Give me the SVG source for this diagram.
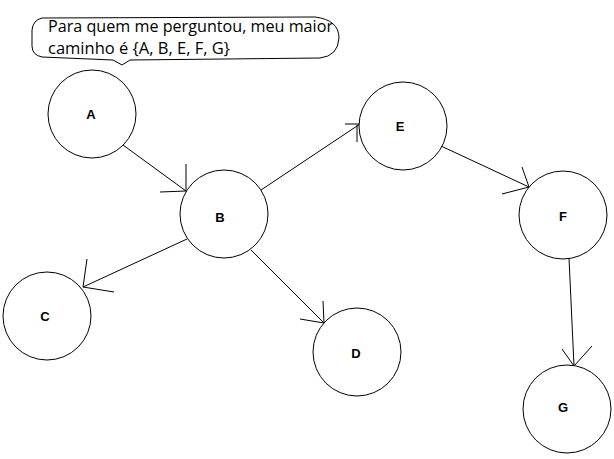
<svg xmlns="http://www.w3.org/2000/svg" width="614" height="459" viewBox="0 0 614 459">
<style>
.node circle{fill:#fff;stroke:#000;stroke-width:1}
.node text{font-family:"Liberation Sans",Arial,sans-serif;font-weight:bold;font-size:13px;fill:#000;text-anchor:middle}
.conn path{fill:none;stroke:#000;stroke-width:1}
.bubble path{fill:#fff;stroke:#000;stroke-width:1}
.bubble text{font-family:"Open Sans","Noto Sans",sans-serif;font-size:15.5px;fill:#000}
</style>
<rect width="614" height="459" fill="#fff"/>
<g id="callout" class="bubble">
<path d="M42,18 L315,17 Q339,20 339,38 Q338,56 320,58 L130,60 L122,65 L113,60 L42,57 Q32,55 32,46 L32,30 Q33,20 42,18 Z"/>
<text x="48" y="32" textLength="285" lengthAdjust="spacingAndGlyphs">Para quem me perguntou, meu maior</text>
<text x="48" y="54" textLength="182" lengthAdjust="spacingAndGlyphs">caminho é {A, B, E, F, G}</text>
</g>
<g id="connectors" class="conn">
<path d="M123,145 L186,191 M186,164 L186,191 L160,192"/>
<path d="M261,190 L360,124 M345,124 L360,124 M357,125 L357,142"/>
<path d="M187,239 L83,287 M87,259 L83,287 L114,292"/>
<path d="M251,250 L324,323 M323,301 L324,323 L300,319"/>
<path d="M441,146 L529,187 M522,167 L529,187 L502,194"/>
<path d="M569,258 L574,366 M562,349 L574,366 L592,346"/>
</g>
<g id="node-A" class="node"><circle cx="92" cy="114" r="44"/><text x="91" y="118.5">A</text></g>
<g id="node-B" class="node"><circle cx="224" cy="214" r="44"/><text x="220" y="222">B</text></g>
<g id="node-C" class="node"><circle cx="47" cy="316" r="44"/><text x="45" y="320.5">C</text></g>
<g id="node-D" class="node"><circle cx="357" cy="352" r="44"/><text x="356" y="357.5">D</text></g>
<g id="node-E" class="node"><circle cx="403" cy="126" r="44"/><text x="400" y="130.5">E</text></g>
<g id="node-F" class="node"><circle cx="563" cy="215" r="44"/><text x="563" y="220.5">F</text></g>
<g id="node-G" class="node"><circle cx="567" cy="409" r="44"/><text x="563" y="411.5">G</text></g>
</svg>
